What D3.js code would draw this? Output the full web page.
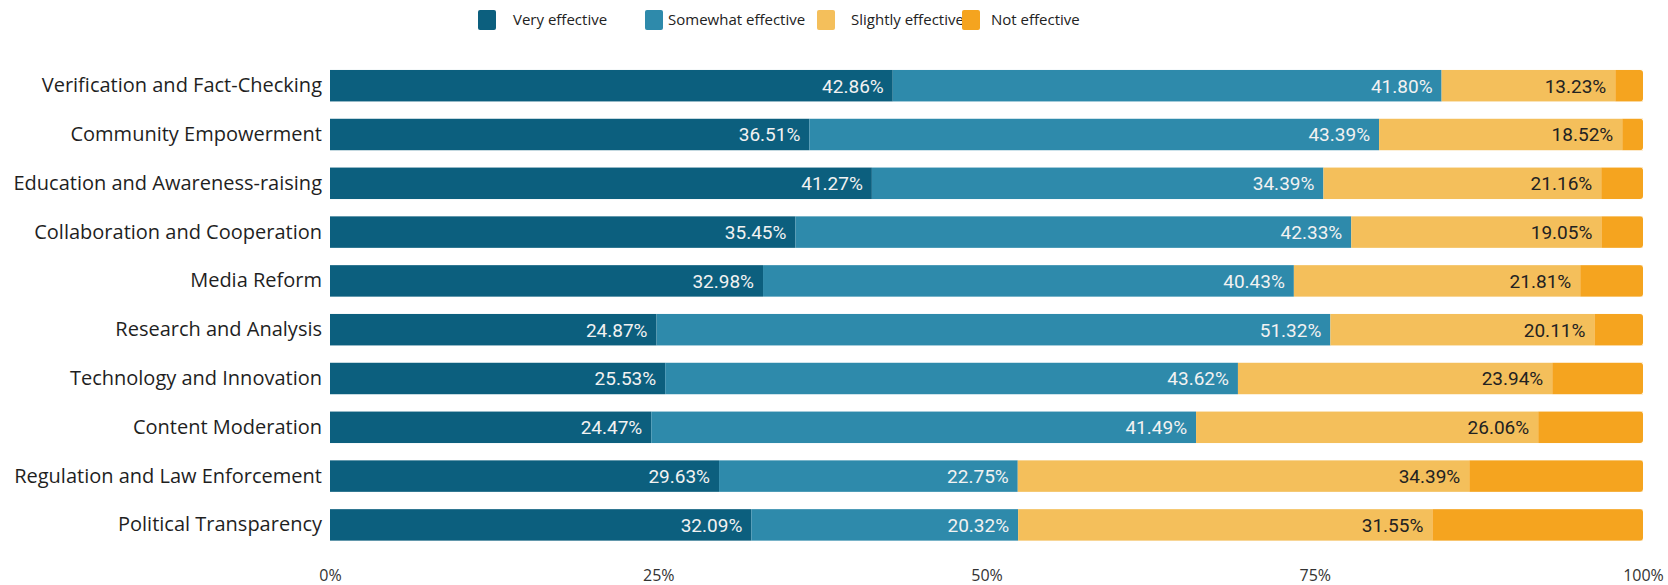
<!DOCTYPE html>
<html>
<head>
<meta charset="utf-8">
<script src="https://cdn.jsdelivr.net/npm/d3@7"></script>
<style>
  html, body { margin: 0; padding: 0; background: #ffffff; }
  svg { display: block; }
</style>
</head>
<body>
<svg id="chart" width="1668" height="585"></svg>
<script>
const categories = [
  "Verification and Fact-Checking",
  "Community Empowerment",
  "Education and Awareness-raising",
  "Collaboration and Cooperation",
  "Media Reform",
  "Research and Analysis",
  "Technology and Innovation",
  "Content Moderation",
  "Regulation and Law Enforcement",
  "Political Transparency"
];
const seriesNames = ["Very effective", "Somewhat effective", "Slightly effective", "Not effective"];
const veryEffective     = [42.86, 36.51, 41.27, 35.45, 32.98, 24.87, 25.53, 24.47, 29.63, 32.09];
const somewhatEffective = [41.80, 43.39, 34.39, 42.33, 40.43, 51.32, 43.62, 41.49, 22.75, 20.32];
const slightlyEffective = [13.23, 18.52, 21.16, 19.05, 21.81, 20.11, 23.94, 26.06, 34.39, 31.55];
const notEffective      = [2.11, 1.58, 3.18, 3.17, 4.78, 3.70, 6.91, 7.98, 13.23, 16.04];
const tickValues = [0, 25, 50, 75, 100];
const colors = ["#0c5f7e", "#2e8aab", "#f4bf5b", "#f5a41f"];
const labelColors = ["#f2f2f2", "#f2f2f2", "#222222", "#222222"];

const seriesValues = [veryEffective, somewhatEffective, slightlyEffective, notEffective];
const rows = categories.map((c, i) => {
  const r = { category: c };
  seriesNames.forEach((s, k) => r[s] = seriesValues[k][i]);
  return r;
});

const svg = d3.select("#chart");
const x = d3.scaleLinear().domain([0, 100]).range([330, 1643]);
const y = d3.scaleBand().domain(categories).range([61.3, 549.3]).paddingInner(0.355).paddingOuter(0.1775);

const stacked = d3.stack().keys(seriesNames)(rows);

// bars
const groups = svg.append("g").selectAll("g")
  .data(stacked).join("g")
  .attr("fill", (d, i) => colors[i]);

groups.selectAll("rect")
  .data(d => d)
  .join("rect")
  .attr("x", d => x(d[0]))
  .attr("y", d => y(d.data.category))
  .attr("width", d => Math.max(0, x(d[1]) - x(d[0])))
  .attr("height", y.bandwidth());

// rounded right ends on last segment
svg.append("g").selectAll("path")
  .data(stacked[3]).join("path")
  .attr("fill", "#ffffff")
  .attr("d", d => {
    const x1 = x(d[1]), y0 = y(d.data.category), h = y.bandwidth(), r = 3;
    return `M${x1 - r},${y0}H${x1 + 1}V${y0 + h}H${x1 - r}Q${x1},${y0 + h} ${x1},${y0 + h - r}V${y0 + r}Q${x1},${y0} ${x1 - r},${y0}Z`;
  });

// value labels (first three series)
stacked.slice(0, 3).forEach((ser, k) => {
  svg.append("g").selectAll("text")
    .data(ser).join("text")
    .attr("x", d => x(d[1]) - 9)
    .attr("y", d => y(d.data.category) + y.bandwidth() / 2)
    .attr("dy", "0.36em")
    .attr("text-anchor", "end")
    .attr("font-family", "Roboto, sans-serif")
    .attr("font-size", 19)
    .attr("fill", labelColors[k])
    .text(d => (d[1] - d[0]).toFixed(2) + "%");
});

// category axis
const yAxis = svg.append("g")
  .attr("transform", "translate(322,0)")
  .call(d3.axisLeft(y).tickSize(0).tickPadding(0));
yAxis.select(".domain").remove();
yAxis.selectAll("text")
  .attr("font-family", "'Open Sans', sans-serif")
  .attr("font-size", 20)
  .attr("fill", "#1f1f1f");

// x axis
const xAxis = svg.append("g")
  .attr("transform", "translate(0,570)")
  .call(d3.axisBottom(x).tickValues(tickValues).tickFormat(d => d + "%").tickSize(0).tickPadding(0));
xAxis.select(".domain").remove();
xAxis.selectAll("text")
  .attr("font-family", "'Open Sans', sans-serif")
  .attr("font-size", 16)
  .attr("fill", "#333333");

// legend
const legendSq = [478, 645, 817, 962];
const legendTx = [513, 668, 851, 991];
const legend = svg.append("g").selectAll("g")
  .data(seriesNames).join("g");
legend.append("rect")
  .attr("x", (d, i) => legendSq[i]).attr("y", 10)
  .attr("width", 18).attr("height", 20).attr("rx", 2)
  .attr("fill", (d, i) => colors[i]);
legend.append("text")
  .attr("x", (d, i) => legendTx[i])
  .attr("y", 20).attr("dy", "0.35em")
  .attr("font-family", "'Open Sans', sans-serif")
  .attr("font-size", 15)
  .attr("fill", "#222")
  .text(d => d);
</script>
</body>
</html>
